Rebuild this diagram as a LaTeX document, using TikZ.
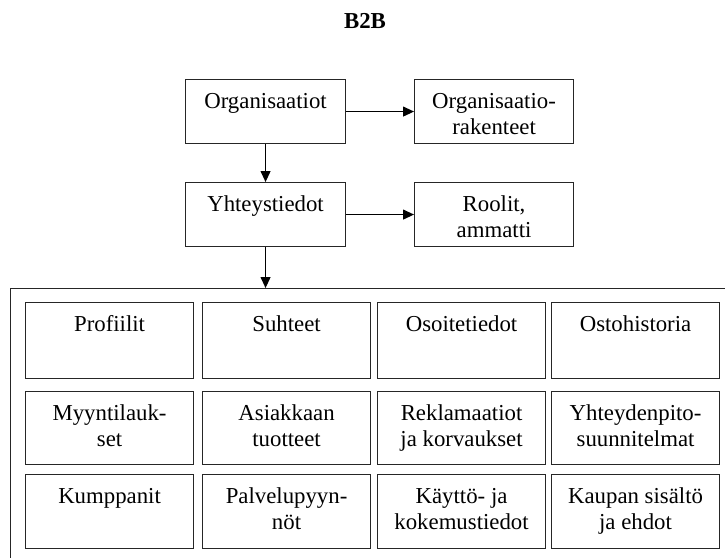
\documentclass[tikz,border=0pt]{standalone}
\usepackage{fontspec}
\setmainfont{Liberation Serif}
\usetikzlibrary{arrows.meta}
\tikzset{
  box/.style={draw=black!85, line width=1.1pt, inner sep=0pt, anchor=north west},
  txt/.style={inner sep=0pt, anchor=north, align=center, font=\fontsize{22.8}{26}\selectfont},
  arr/.style={line width=1.1pt, -{Triangle[length=11pt,width=10pt]}},
}
\newcommand\mybox[6]{%
  \node[box, minimum width=#4pt, minimum height=#5pt] (#1) at (#2,#3) {};
  \node[txt] (#1t) at ([yshift=-10.8pt]#1.north) {\strut #6};}
\begin{document}
\begin{tikzpicture}[x=1pt,y=-1pt]
\useasboundingbox (0,0) rectangle (725,557);
\node[anchor=base, inner sep=0pt, font=\fontsize{22.8}{26}\selectfont\bfseries] (title) at (365,28) {B2B};

\mybox{org}{185}{79}{160}{64}{Organisaatiot}
\mybox{orgr}{414}{79}{159}{64}{Organisaatio-\\rakenteet}
\mybox{yht}{185}{182}{160}{64}{Yhteystiedot}
\mybox{rool}{414}{182}{159}{64}{Roolit,\\ammatti}

\begin{scope}
\clip (0,0) rectangle (725,557);
\node[box, minimum width=740pt, minimum height=290pt] (big) at (10,288) {};
\end{scope}

\mybox{a1}{25}{302}{168}{76}{Profiilit}
\mybox{a2}{202}{302}{168}{76}{Suhteet}
\mybox{a3}{377}{302}{168}{76}{Osoitetiedot}
\mybox{a4}{551}{302}{168}{76}{Ostohistoria}

\mybox{b1}{25}{391}{168}{73}{Myyntilauk-\\set}
\mybox{b2}{202}{391}{168}{73}{Asiakkaan\\tuotteet}
\mybox{b3}{377}{391}{168}{73}{Reklamaatiot\\ja korvaukset}
\mybox{b4}{551}{391}{168}{73}{Yhteydenpito-\\suunnitelmat}

\mybox{c1}{25}{474}{168}{74}{Kumppanit}
\mybox{c2}{202}{474}{168}{74}{Palvelupyyn-\\nöt}
\mybox{c3}{377}{474}{168}{74}{Käyttö- ja\\kokemustiedot}
\mybox{c4}{551}{474}{168}{74}{Kaupan sisältö\\ja ehdot}

\draw[arr] (org.east) -- (orgr.west);
\draw[arr] (org.south) -- (yht.north);
\draw[arr] (yht.east) -- (rool.west);
\draw[arr] (yht.south) -- (yht.south |- big.north);
\end{tikzpicture}
\end{document}
